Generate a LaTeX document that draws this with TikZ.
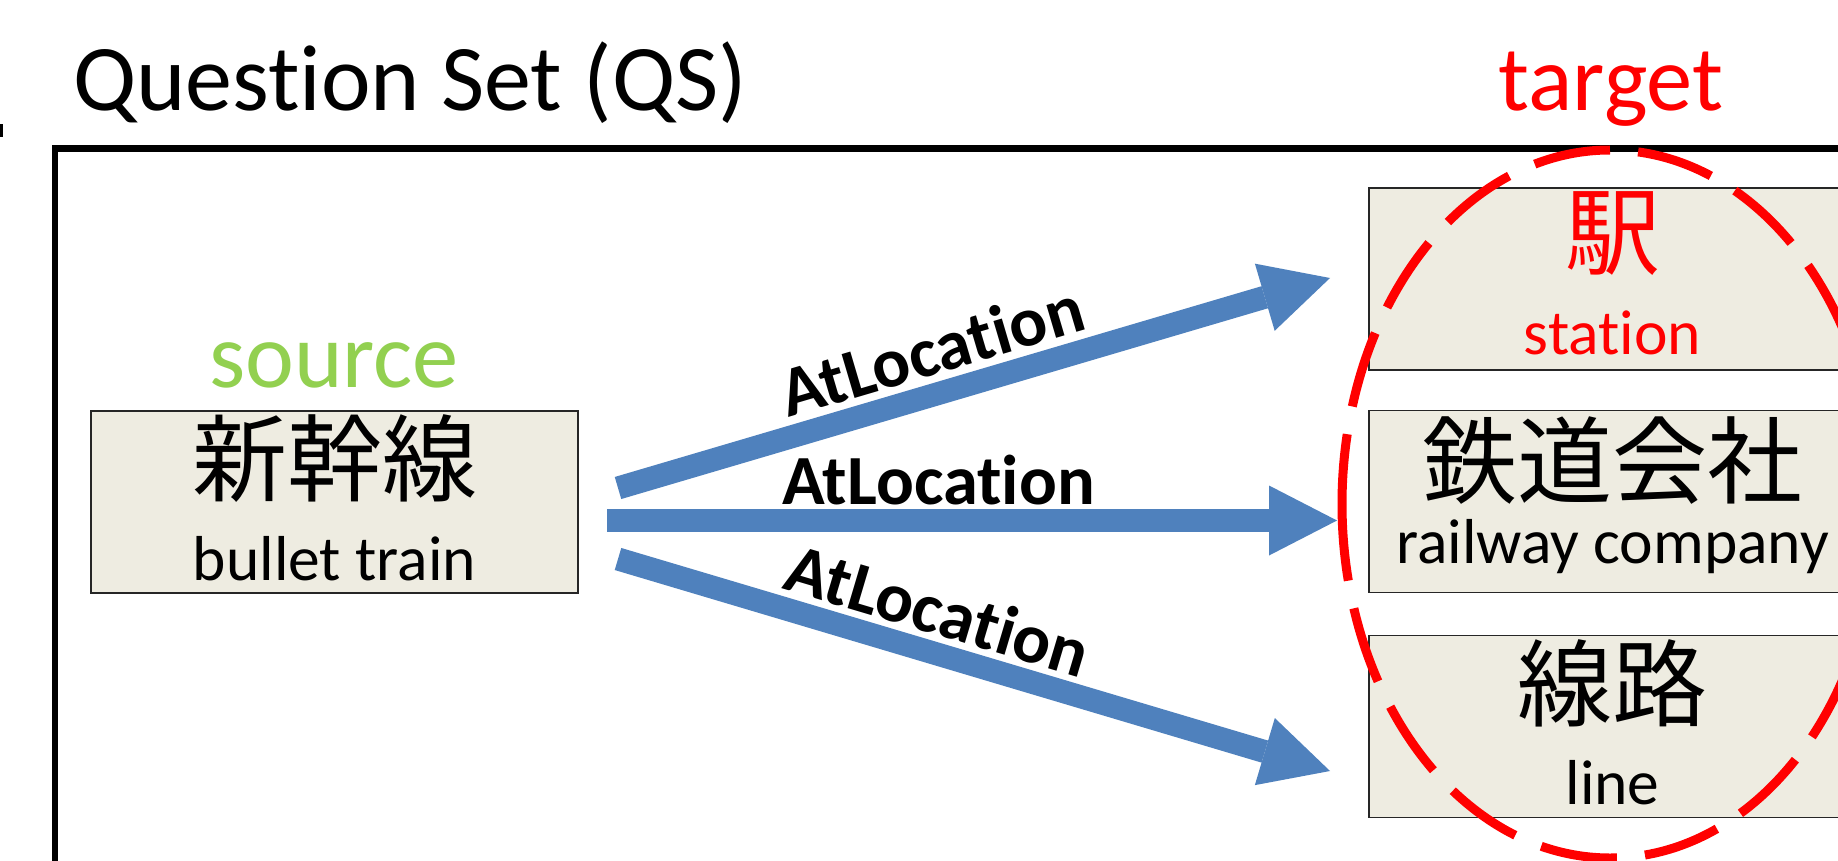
\documentclass[tikz,border=0pt]{standalone}
\usepackage{fontspec}
\setmainfont{Carlito}[Ligatures={NoCommon,NoContextual}, RawFeature={-liga;-calt}]
\newfontfamily\jpfont{Noto Sans CJK JP}
\usetikzlibrary{arrows.meta,calc}

% keeps "t" and "i" as separate glyphs
\newcommand\nolig{\kern0pt}

\definecolor{boxfill}{HTML}{EEECE1}
\definecolor{arrowblue}{HTML}{4F81BD}
\definecolor{srcgreen}{HTML}{92D050}
\definecolor{tgtred}{HTML}{FF0000}

\begin{document}
\begin{tikzpicture}[x=1pt,y=-1pt,
  wordbox/.style={draw=black!85, line width=1.3pt, fill=boxfill,
    minimum width=487pt, minimum height=182pt, inner sep=0pt},
  jp/.style={font=\jpfont\fontsize{95}{95}\selectfont, anchor=base, inner sep=0pt},
  en/.style={font=\fontsize{63.5}{63.5}\selectfont, anchor=base, inner sep=0pt},
  heading/.style={font=\fontsize{92.5}{92.5}\selectfont, anchor=base, inner sep=0pt},
  rel/.style={font=\bfseries\fontsize{70.5}{70.5}\selectfont, anchor=base, inner sep=0pt},
  flow/.style={draw=arrowblue, line width=23pt,
    -{Triangle[width=70pt,length=68pt,line width=0pt]}},
  ring/.style={draw=tgtred, line width=9pt, dash pattern=on 77pt off 28.2pt}
]
\useasboundingbox (0,0) rectangle (1838,861);
\fill[white] (0,0) rectangle (1838,861);
\begin{scope}
\clip (0,0) rectangle (1838,861);

% small mark at the left edge
\fill (0,124) rectangle (2.6,137);

% outer frame of the question set
\draw[line width=6.5pt] (55,148.5) rectangle (1920,940);

% headings
\node[heading, anchor=base west, font=\fontsize{94}{94}\selectfont] (title) at (73,111) {Quest\nolig{}ion Set (QS)};
\node[heading, text=srcgreen] (srclbl) at (334,387) {source};
\node[heading, text=tgtred] (tgtlbl) at (1611,111) {target};

% word boxes
\node[wordbox] (src) at (334.5,502) {};
\node[wordbox] (t1) at (1612.5,279) {};
\node[wordbox] (t2) at (1612.5,501.5) {};
\node[wordbox] (t3) at (1612.5,726.5) {};

\node[jp] (srcjp) at ($(src.north)+(0,84)$) {新幹線};
\node[en] (srcen) at ($(src.north)+(0,170)$) {bullet train};
\node[jp, text=tgtred] (t1jp) at ($(t1.north)+(0,80)$) {駅};
\node[en, text=tgtred] (t1en) at ($(t1.north)+(0,167)$) {stat\nolig{}ion};
\node[jp] (t2jp) at ($(t2.north)+(0,86.5)$) {鉄道会社};
\node[en] (t2en) at ($(t2.north)+(0,154)$) {railway company};
\node[jp] (t3jp) at ($(t3.north)+(0,84.5)$) {線路};
\node[en] (t3en) at ($(t3.north)+(0,170)$) {line};

% relation arrows
\coordinate (a1s) at (618,488);   \coordinate (a1e) at (1330,278);
\coordinate (a2s) at (607,520.5); \coordinate (a2e) at (1337,520.5);
\coordinate (a3s) at (618,559);   \coordinate (a3e) at (1330,771);
\draw[flow] (a1s) -- (a1e);
\draw[flow] (a2s) -- (a2e);
\draw[flow] (a3s) -- (a3e);

\node[rel, rotate=16.46] (r1) at (938.6,373.5) {AtLocat\nolig{}ion};
\node[rel] (r2) at (938.5,504) {AtLocat\nolig{}ion};
\node[rel, rotate=-16.58] (r3) at (931.4,633.5) {AtLocat\nolig{}ion};

% dashed ring around the targets, starting at its leftmost point
\draw[ring] (1342,504) arc[start angle=180, delta angle=-360,
  x radius=268, y radius=354];
\end{scope}
\end{tikzpicture}
\end{document}
